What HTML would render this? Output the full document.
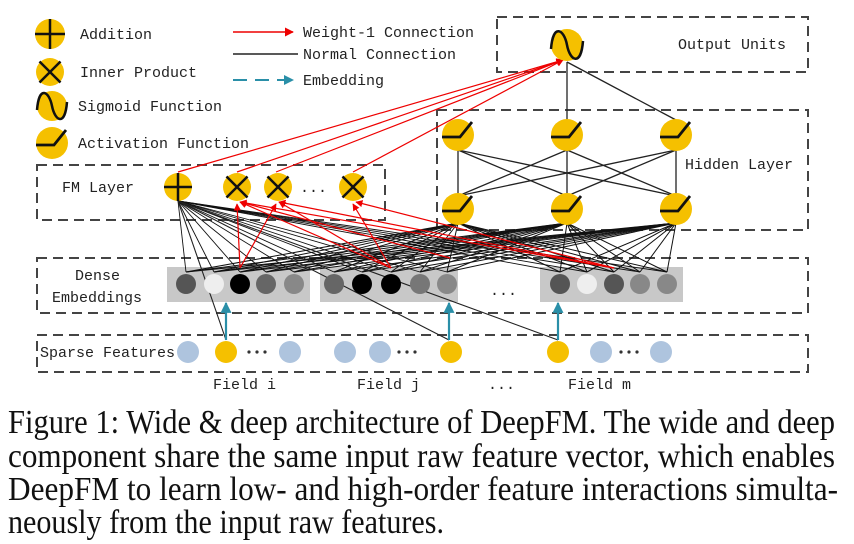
<!DOCTYPE html>
<html><head><meta charset="utf-8"><style>
html,body{margin:0;padding:0;background:#fff;}
svg{display:block;}
.t{font-family:"Liberation Mono",monospace;font-size:15px;fill:#222;}
.c{font-family:"Liberation Serif",serif;font-size:34px;fill:#111;}
</style></head><body>
<svg id="s" width="854" height="544" viewBox="0 0 854 544" xmlns="http://www.w3.org/2000/svg">
<defs>
<marker id="ra" viewBox="0 0 10 10" refX="9" refY="5" markerWidth="6" markerHeight="6" orient="auto"><path d="M0,0L10,5L0,10z" fill="#e00"/></marker>
<marker id="ta" viewBox="0 0 10 10" refX="9" refY="5" markerWidth="5" markerHeight="5" orient="auto"><path d="M0,0L10,5L0,10z" fill="#2a8fa8"/></marker>
</defs>
<g fill="none" stroke="#444" stroke-width="2" stroke-dasharray="10,6">
<rect x="497" y="17" width="311" height="55"/>
<rect x="437" y="110" width="371" height="120"/>
<rect x="37" y="165" width="348" height="55"/>
<rect x="37" y="258" width="771" height="55"/>
<rect x="37" y="335" width="771" height="37"/>
</g>
<g fill="#c8c8c8">
<rect x="167" y="267" width="143" height="35"/>
<rect x="320" y="267" width="138" height="35"/>
<rect x="540" y="267" width="143" height="35"/>
</g>
<g id="lines"></g>
<line x1="233" y1="32" x2="293" y2="32" stroke="#e00" stroke-width="1.5" marker-end="url(#ra)"/>
<line x1="233" y1="54" x2="298" y2="54" stroke="#222" stroke-width="1.5"/>
<line x1="233" y1="80" x2="293" y2="80" stroke="#2a8fa8" stroke-width="2" stroke-dasharray="14,8" marker-end="url(#ta)"/>
<text class="t" x="303" y="37">Weight-1 Connection</text>
<text class="t" x="303" y="59">Normal Connection</text>
<text class="t" x="303" y="85">Embedding</text>
<text class="t" x="80" y="39">Addition</text>
<text class="t" x="80" y="77">Inner Product</text>
<text class="t" x="78" y="111">Sigmoid Function</text>
<text class="t" x="78" y="148">Activation Function</text>
<text class="t" x="678" y="49">Output Units</text>
<text class="t" x="685" y="169">Hidden Layer</text>
<text class="t" x="62" y="192">FM Layer</text>
<text class="t" x="75" y="280">Dense</text>
<text class="t" x="52" y="302">Embeddings</text>
<text class="t" x="40" y="357">Sparse Features</text>
<text class="t" x="213" y="389">Field i</text>
<text class="t" x="357" y="389">Field j</text>
<text class="t" x="568" y="389">Field m</text>
<text class="t" x="488" y="389">...</text>
<text class="t" x="490" y="295">...</text>
<text class="t" x="300" y="192">...</text>
<g id="nodes"></g>
<text class="c" x="8" y="433" textLength="827" lengthAdjust="spacingAndGlyphs">Figure 1: Wide &amp; deep architecture of DeepFM. The wide and deep</text>
<text class="c" x="8" y="467" textLength="827" lengthAdjust="spacingAndGlyphs">component share the same input raw feature vector, which enables</text>
<text class="c" x="8" y="500" textLength="830" lengthAdjust="spacingAndGlyphs">DeepFM to learn low- and high-order feature interactions simulta-</text>
<text class="c" x="8" y="533" textLength="436" lengthAdjust="spacingAndGlyphs">neously from the input raw features.</text>
</svg>
<script>
var NS="http://www.w3.org/2000/svg";
function el(p,t,a){var e=document.createElementNS(NS,t);for(var k in a)e.setAttribute(k,a[k]);document.getElementById(p).appendChild(e);return e;}
function L(x1,y1,x2,y2,c,w,m){var a={x1:x1,y1:y1,x2:x2,y2:y2,stroke:c,"stroke-width":w||1.2};if(m)a["marker-end"]=m;el("lines","line",a);}
var emb=[186,214,240,266,294,334,362,391,420,447,560,587,614,640,667];
var hb=[458,567,676];
emb.forEach(function(x){hb.forEach(function(h){L(x,272,h,223,"#111",1);});L(x,272,178,201,"#111",0.9);});
[458,567,676].forEach(function(a){[458,567,676].forEach(function(b){L(a,150,b,196,"#222",1.3);});});
L(567,120,567,62,"#222",1.3);L(676,120,567,62,"#222",1.3);
L(178,201,226,340,"#222",1.1);L(178,201,449,340,"#222",1.1);L(178,201,558,340,"#222",1.1);
L(240,268,237,204,"#e00",1.2,"url(#ra)");L(240,268,276,204,"#e00",1.2,"url(#ra)");
L(391,268,240,202,"#e00",1.2,"url(#ra)");L(391,268,279,202,"#e00",1.2,"url(#ra)");L(391,268,353,204,"#e00",1.2,"url(#ra)");
L(614,268,240,202,"#e00",1.2,"url(#ra)");L(614,268,279,202,"#e00",1.2,"url(#ra)");L(614,268,356,202,"#e00",1.2,"url(#ra)");
L(450,258,240,202,"#e00",1.2);
[[178,172],[237,172],[276,172],[353,172]].forEach(function(p){L(p[0],p[1],563,60,"#e00",1.2,"url(#ra)");});
[[226,340,226,303],[449,340,449,303],[558,340,558,303]].forEach(function(p){L(p[0],p[1],p[2],p[3],"#2a8fa8",2.2,"url(#ta)");});
function circ(x,y,r,f){el("nodes","circle",{cx:x,cy:y,r:r,fill:f});}
function plus(x,y,r){circ(x,y,r,"#f5c000");el("nodes","path",{d:"M"+(x-r)+","+y+"H"+(x+r)+"M"+x+","+(y-r)+"V"+(y+r),stroke:"#111","stroke-width":2.5,fill:"none"});}
function times(x,y,r){circ(x,y,r,"#f5c000");var d=r*0.75;el("nodes","path",{d:"M"+(x-d)+","+(y-d)+"L"+(x+d)+","+(y+d)+"M"+(x+d)+","+(y-d)+"L"+(x-d)+","+(y+d),stroke:"#111","stroke-width":2.5,fill:"none"});}
function sig(x,y,r){circ(x,y,r,"#f5c000");el("nodes","path",{d:"M"+(x-r)+","+(y+4)+"C"+(x-r+2)+","+(y-r-6)+" "+(x-3)+","+(y-r)+" "+x+","+y+"S"+(x+r-2)+","+(y+r+6)+" "+(x+r)+","+(y-4),stroke:"#111","stroke-width":2.5,fill:"none"});}
function act(x,y,r){circ(x,y,r,"#f5c000");el("nodes","path",{d:"M"+(x-r)+","+(y+2)+"H"+(x+2)+"L"+(x+r-2)+","+(y-r+3),stroke:"#111","stroke-width":2.8,fill:"none"});}
plus(50,34,15);times(50,72,14);sig(52,106,15);act(52,143,16);
sig(567,45,16);
[458,567,676].forEach(function(x){act(x,135,16);act(x,209,16);});
plus(178,187,14);times(237,187,14);times(278,187,14);times(353,187,14);
var cols=["#555","#eee","#000","#666","#888","#666","#000","#000","#777","#888","#555","#eee","#555","#888","#888"];
emb.forEach(function(x,i){circ(x,284,10,cols[i]);});
[188,290,345,380,601,661].forEach(function(x){circ(x,352,11,"#aec4de");});
[226,451,558].forEach(function(x){circ(x,352,11,"#f5c000");});
[[245,270],[395,420],[617,640]].forEach(function(p){for(var i=0;i<3;i++)circ(p[0]+4+i*8,352,1.6,"#333");});
</script>
</body></html>
